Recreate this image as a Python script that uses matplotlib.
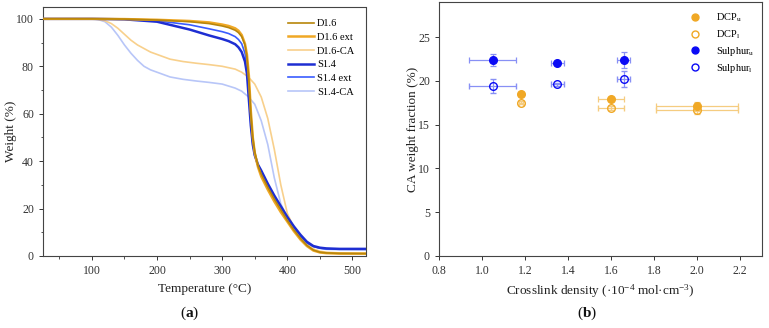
import matplotlib
matplotlib.use("Agg")
import matplotlib.pyplot as plt
from matplotlib.ticker import MultipleLocator
from matplotlib.lines import Line2D

plt.rcParams['font.family'] = ['Liberation Serif', 'DejaVu Serif']
plt.rcParams['mathtext.fontset'] = 'custom'
plt.rcParams['mathtext.rm'] = 'Liberation Serif'
plt.rcParams['mathtext.it'] = 'Liberation Serif:italic'
plt.rcParams['mathtext.bf'] = 'Liberation Serif:bold'

# ---- Panel (a): TGA ----
T_main = [25, 100, 150, 200, 250, 280, 300, 310, 320, 325, 330, 335, 338, 341, 344, 347, 350, 355,
          360, 370, 380, 390, 400, 410, 420, 430, 440, 450, 460, 480, 520]
w_D16 = [100, 100, 99.9, 99.5, 98.8, 98.0, 97.0, 96.3, 95.2, 94.2, 92.5, 89, 84, 74, 60, 50, 44, 38,
         34.5, 29, 24, 19.5, 15, 11, 7.5, 4.5, 2.5, 1.6, 1.3, 1.1, 1.0]
w_D16ext = [100, 100, 99.9, 99.6, 99.1, 98.5, 97.6, 97.0, 96.0, 95.0, 93.2, 89.5, 85, 76, 61, 50, 43.5, 37.5,
            33.5, 28, 23, 18.5, 14.5, 10.5, 7, 4.2, 2.3, 1.5, 1.2, 1.0, 1.0]
w_S14 = [100, 100, 99.8, 98.8, 95.5, 93.0, 91.5, 90.6, 89.3, 88, 86, 82, 77, 66, 55, 47, 42.5, 38.5,
         36, 30.5, 25.5, 21, 16.5, 12.5, 9, 6, 4.2, 3.5, 3.2, 3.0, 3.0]
w_S14ext = [100, 100, 99.8, 99.2, 97.5, 95.8, 94.6, 93.8, 92.5, 91.3, 89.5, 85.5, 80, 69, 56, 47.5, 42.5, 38,
            35.5, 30, 25, 20.5, 16, 12, 8.5, 5.5, 4, 3.3, 3.0, 2.9, 2.9]

T_ca = [25, 100, 110, 120, 130, 140, 150, 160, 170, 180, 190, 200, 220, 240, 260, 280, 300, 320, 330,
        340, 350, 360, 370, 380, 390, 400, 410, 420, 430, 440, 450, 460, 480, 520]
w_D16CA = [100, 100, 99.8, 99.2, 98, 96, 93.5, 91, 89, 87.5, 86, 85, 83, 82, 81.3, 80.7, 80, 78.8, 77.5,
           75.5, 72.5, 67, 58, 45, 30, 18, 12, 8, 5, 3, 2, 1.6, 1.3, 1.2]
w_S14CA = [100, 100, 99.7, 98.8, 96.5, 93, 89, 85.5, 82.5, 80, 78.5, 77.5, 75.5, 74.5, 73.8, 73.2, 72.5,
           70.8, 69.5, 67.2, 64, 57, 47, 33, 22, 16, 11.5, 8, 5.5, 4, 3.2, 2.8, 2.6, 2.5]

# ---- Panel (b): CA weight fraction vs crosslink density ----
dcp_x = [1.18, 1.60, 2.00]
dcp_xerr = [0.01, 0.06, 0.19]
dcp_u = [18.5, 17.9, 17.1]
dcp_u_err = [0.2, 0.2, 0.5]
dcp_l = [17.5, 16.9, 16.7]
dcp_l_err = [0.2, 0.2, 0.5]

s_x = [1.05, 1.35, 1.66]
s_xerr = [0.11, 0.03, 0.03]
s_u = [22.4, 22.0, 22.4]
s_u_err = [0.7, 0.2, 0.9]
s_l = [19.4, 19.6, 20.2]
s_l_err = [0.8, 0.2, 0.9]

fig = plt.figure(figsize=(7.69, 3.28), dpi=100)
axa = fig.add_axes([43/769, 1-256/328, (365.5-43)/769, (256-7)/328])
axb = fig.add_axes([439/769, 1-256/328, (761.5-439)/769, (256-2)/328])

c_D16 = '#B8860B'
c_D16ext = '#F0A825'
c_D16CA = '#F8D08C'
c_S14 = '#1E2ED2'
c_S14ext = '#3A5CFF'
c_S14CA = '#B8C6F8'

axa.plot(T_ca, w_S14CA, color=c_S14CA, lw=1.2, zorder=2)
axa.plot(T_ca, w_D16CA, color=c_D16CA, lw=1.2, zorder=2)
axa.plot(T_main, w_S14ext, color=c_S14ext, lw=1.2, zorder=3)
axa.plot(T_main, w_S14, color=c_S14, lw=1.8, zorder=3)
axa.plot(T_main, w_D16ext, color=c_D16ext, lw=1.8, zorder=4)
axa.plot(T_main, w_D16, color=c_D16, lw=1.2, zorder=5)

handles = [Line2D([], [], color=c_D16, lw=1.2), Line2D([], [], color=c_D16ext, lw=1.8),
           Line2D([], [], color=c_D16CA, lw=1.2), Line2D([], [], color=c_S14, lw=1.8),
           Line2D([], [], color=c_S14ext, lw=1.2), Line2D([], [], color=c_S14CA, lw=1.2)]
labels = ['D1.6', 'D1.6 ext', 'D1.6-CA', 'S1.4', 'S1.4 ext', 'S1.4-CA']
axa.legend(handles, labels, loc='upper left', frameon=False, fontsize=7.5, handlelength=2.5,
           handletextpad=0.3, labelspacing=0.42, borderaxespad=0.0, borderpad=0.0,
           bbox_to_anchor=((288-43)/322.5, (256-19)/249))

axa.set_xlim(25, 520)
axa.set_ylim(0, 105)
axa.xaxis.set_major_locator(MultipleLocator(100))
axa.xaxis.set_minor_locator(MultipleLocator(50))
axa.yaxis.set_major_locator(MultipleLocator(20))
axa.yaxis.set_minor_locator(MultipleLocator(10))
axa.set_xlabel('Temperature (°C)', fontsize=9.5)
axa.set_ylabel('Weight (%)', fontsize=9.5)
axa.xaxis.set_label_coords(0.5, (256-283)/249)
axa.yaxis.set_label_coords((17-43)/322.5, 0.5)

c_or = '#F0A825'
c_bl = '#0A0AF5'
eb_kw = dict(elinewidth=0.9, capsize=2.5, capthick=0.9, ls='none', markersize=5.5)
axb.errorbar(dcp_x, dcp_u, xerr=dcp_xerr, yerr=dcp_u_err, fmt='o', color=c_or, ecolor='#F5CC80',
             mfc=c_or, mec=c_or, **eb_kw)
axb.errorbar(dcp_x, dcp_l, xerr=dcp_xerr, yerr=dcp_l_err, fmt='o', color=c_or, ecolor='#F5CC80',
             mfc='none', mec=c_or, mew=1.0, **eb_kw)
axb.errorbar(s_x, s_u, xerr=s_xerr, yerr=s_u_err, fmt='o', color=c_bl, ecolor='#8890F5',
             mfc=c_bl, mec=c_bl, **eb_kw)
axb.errorbar(s_x, s_l, xerr=s_xerr, yerr=s_l_err, fmt='o', color=c_bl, ecolor='#8890F5',
             mfc='none', mec=c_bl, mew=1.0, **eb_kw)

hb = [Line2D([], [], ls='none', marker='o', ms=5, mfc=c_or, mec=c_or),
      Line2D([], [], ls='none', marker='o', ms=5, mfc='none', mec=c_or),
      Line2D([], [], ls='none', marker='o', ms=5, mfc=c_bl, mec=c_bl),
      Line2D([], [], ls='none', marker='o', ms=5, mfc='none', mec=c_bl)]
lb = [r'DCP$_\mathrm{u}$', r'DCP$_\mathrm{l}$', r'Sulphur$_\mathrm{u}$', r'Sulphur$_\mathrm{l}$']
axb.legend(hb, lb, loc='upper left', frameon=False, fontsize=7.5, handlelength=1.0,
           handletextpad=1.5, labelspacing=0.38, borderaxespad=0.0, borderpad=0.0,
           bbox_to_anchor=((690-439)/322.5, (256-12)/254))

axb.set_xlim(0.8, 2.3)
axb.set_ylim(0, 29)
axb.set_xticks([0.8, 1.0, 1.2, 1.4, 1.6, 1.8, 2.0, 2.2])
axb.set_yticks([0, 5, 10, 15, 20, 25])
axb.set_xlabel('Crosslink density (·10$^{-4}$ mol·cm$^{-3}$)', fontsize=9.5)
axb.set_ylabel('CA weight fraction (%)', fontsize=9.5)
axb.xaxis.set_label_coords(0.5, (256-282)/254)
axb.yaxis.set_label_coords((419-439)/322.5, 0.5)

for ax in (axa, axb):
    ax.tick_params(axis='both', which='major', direction='out', length=3, width=0.7,
                   labelsize=8.5, colors='#333333', labelcolor='#333333')
    ax.tick_params(axis='both', which='minor', direction='out', length=1.8, width=0.6, colors='#333333')
    for s in ax.spines.values():
        s.set_color('#444444')
        s.set_linewidth(0.8)
    ax.xaxis.label.set_color('#222222')
    ax.yaxis.label.set_color('#222222')

fig.text(190/769, 1-313/328, r'($\mathbf{a}$)', fontsize=11, ha='center', va='center', color='#111111')
fig.text(587/769, 1-313/328, r'($\mathbf{b}$)', fontsize=11, ha='center', va='center', color='#111111')

fig.savefig('out.png', dpi=100)
